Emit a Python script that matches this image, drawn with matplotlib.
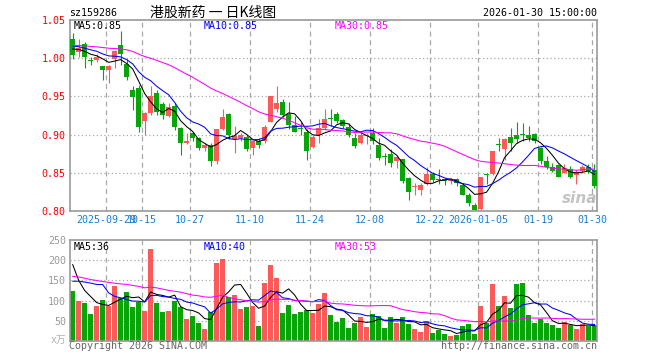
import numpy as np
import pandas as pd
import matplotlib
matplotlib.use('Agg')
from matplotlib import pyplot as plt

plt.rcParams['font.family'] = ['DejaVu Sans Mono', 'Noto Sans CJK SC']

# 行情数据 (2025-09-19 ~ 2026-01-30)
open_p = [1.025, 1.008, 1.019, 0.997, 0.998, 0.990, 0.985, 0.999, 1.017, 0.993,
          0.958, 0.961, 0.918, 0.928, 0.954, 0.940, 0.924, 0.937, 0.908, 0.889,
          0.902, 0.895, 0.882, 0.887, 0.865, 0.907, 0.927, 0.894, 0.895, 0.897,
          0.882, 0.891, 0.891, 0.917, 0.933, 0.943, 0.927, 0.913, 0.908, 0.904,
          0.884, 0.900, 0.908, 0.922, 0.927, 0.919, 0.910, 0.896, 0.889, 0.898,
          0.902, 0.886, 0.872, 0.874, 0.865, 0.868, 0.843, 0.831, 0.827, 0.835,
          0.849, 0.842, 0.842, 0.839, 0.842, 0.834, 0.821, 0.808, 0.802, 0.848,
          0.848, 0.887, 0.881, 0.897, 0.899, 0.900, 0.900, 0.901, 0.882, 0.866,
          0.858, 0.860, 0.850, 0.855, 0.847, 0.853, 0.858, 0.854]
high_p = [1.033, 1.025, 1.021, 1.001, 1.006, 0.990, 0.991, 1.011, 1.036, 0.999,
          0.963, 0.965, 0.930, 0.964, 0.958, 0.943, 0.941, 0.941, 0.910, 0.902,
          0.904, 0.897, 0.889, 0.889, 0.907, 0.933, 0.928, 0.911, 0.902, 0.899,
          0.893, 0.895, 0.913, 0.951, 0.964, 0.946, 0.943, 0.924, 0.917, 0.907,
          0.899, 0.920, 0.934, 0.933, 0.930, 0.921, 0.915, 0.902, 0.902, 0.902,
          0.908, 0.895, 0.876, 0.881, 0.873, 0.868, 0.845, 0.836, 0.836, 0.858,
          0.851, 0.855, 0.843, 0.843, 0.843, 0.836, 0.823, 0.811, 0.845, 0.850,
          0.878, 0.896, 0.895, 0.908, 0.917, 0.915, 0.911, 0.902, 0.884, 0.872,
          0.863, 0.862, 0.862, 0.859, 0.854, 0.860, 0.862, 0.862]
low_p = [0.999, 1.002, 0.987, 0.991, 0.995, 0.971, 0.968, 0.987, 0.991, 0.971,
         0.932, 0.903, 0.900, 0.926, 0.926, 0.920, 0.923, 0.906, 0.873, 0.888,
         0.891, 0.880, 0.879, 0.859, 0.862, 0.906, 0.894, 0.876, 0.891, 0.878,
         0.873, 0.883, 0.889, 0.916, 0.930, 0.923, 0.907, 0.903, 0.899, 0.867,
         0.882, 0.889, 0.906, 0.911, 0.915, 0.908, 0.897, 0.882, 0.888, 0.888,
         0.888, 0.867, 0.860, 0.858, 0.856, 0.836, 0.815, 0.821, 0.821, 0.834,
         0.838, 0.835, 0.834, 0.835, 0.833, 0.821, 0.806, 0.800, 0.800, 0.835,
         0.847, 0.879, 0.867, 0.879, 0.889, 0.891, 0.892, 0.889, 0.862, 0.855,
         0.851, 0.845, 0.850, 0.843, 0.835, 0.850, 0.850, 0.830]
close_p = [1.004, 1.013, 1.001, 0.996, 1.002, 0.984, 0.990, 1.009, 1.006, 0.976,
           0.949, 0.910, 0.928, 0.951, 0.930, 0.926, 0.936, 0.910, 0.889, 0.891,
           0.895, 0.882, 0.886, 0.865, 0.907, 0.923, 0.900, 0.898, 0.899, 0.881,
           0.891, 0.886, 0.910, 0.951, 0.942, 0.926, 0.913, 0.904, 0.907, 0.878,
           0.897, 0.908, 0.921, 0.920, 0.918, 0.911, 0.900, 0.885, 0.899, 0.899,
           0.892, 0.869, 0.871, 0.863, 0.871, 0.839, 0.825, 0.833, 0.834, 0.848,
           0.841, 0.841, 0.839, 0.841, 0.836, 0.821, 0.810, 0.801, 0.844, 0.847,
           0.878, 0.886, 0.894, 0.889, 0.894, 0.899, 0.896, 0.892, 0.866, 0.857,
           0.853, 0.845, 0.856, 0.844, 0.851, 0.858, 0.853, 0.833]
# 成交量(万)
volume = [125, 100, 95, 67.5, 87.5, 102.5, 87.5, 135, 106, 122.5,
          85, 96, 75, 227.5, 93, 72.5, 75, 100, 85, 55,
          62.5, 45, 30, 72.5, 192.5, 202.5, 110, 115, 80, 85,
          87.5, 37.5, 142.5, 187.5, 155, 70, 90, 67.5, 72.5, 77.5,
          70, 92.5, 120, 65, 47.5, 57.5, 32.5, 45, 60, 35,
          67.5, 62.5, 32.5, 60, 45, 60, 42.5, 30, 22.5, 50,
          20, 27.5, 17.5, 12.5, 15, 37.5, 42.5, 17.5, 87.5, 45,
          140, 87.5, 112.5, 82.5, 140, 142.5, 65, 45, 55, 45,
          40, 32.5, 47.5, 40, 30, 42.5, 37.5, 40]

# 图表起点之前的数据(估计值), 只用于均线计算
pre_close = [1.010, 1.015, 1.020, 1.018, 1.012, 1.016, 1.022, 1.019, 1.014, 1.011,
             1.017, 1.021, 1.018, 1.015, 1.013, 1.020, 1.024, 1.019, 1.016, 1.018,
             1.022, 1.020, 1.017, 1.021, 1.019, 1.016, 1.013, 1.015, 1.012]
pre_volume = [150, 180, 170, 160, 175, 155, 190, 165, 150, 170,
              160, 185, 170, 155, 165, 175, 160, 150, 170, 165,
              100, 115, 95, 120, 105, 295, 220, 142.5, 162.5]

tick_dates = ['2025-09-29', '2025-10-15', '2025-10-27', '2025-11-10', '2025-11-24',
              '2025-12-08', '2025-12-22', '2026-01-05', '2026-01-19', '2026-01-30']
tick_labels = ['2025-09-29', '10-15', '10-27', '11-10', '11-24',
               '12-08', '12-22', '2026-01-05', '01-19', '01-30']
holidays = ['2025-10-01', '2025-10-02', '2025-10-03', '2025-10-06', '2025-10-07',
            '2025-10-08', '2026-01-01', '2026-01-02']

ma_price_text = ['MA5:0.85', 'MA10:0.85', 'MA30:0.85']
ma_vol_text = ['MA5:36', 'MA10:40', 'MA30:53']

RED = '#fa5a5a'
GREEN = '#07a507'
GRID = '#a8a8a8'
FRAME = '#9a9a9a'

days = pd.bdate_range('2025-09-19', '2026-01-30')
days = days[~days.isin(pd.to_datetime(holidays))]
x = np.arange(len(days))

o = np.array(open_p)
h = np.array(high_p)
l = np.array(low_p)
c = np.array(close_p)
v = np.array(volume)
up = c >= o
colors = np.where(up, RED, GREEN)

n_pre = len(pre_close)
all_close = pd.Series(pre_close + close_p)
all_vol = pd.Series(pre_volume + volume)
ma_cols = ['black', '#0000ff', '#ff00ff']
ma_n = [5, 10, 30]

tick_pos = [days.get_loc(pd.Timestamp(d)) - 0.4 for d in tick_dates]

W, H = 660, 360
fig = plt.figure(figsize=(6.6, 3.6), dpi=100)
ax1 = fig.add_axes([70 / W, 1 - 211 / H, 527 / W, 191 / H])
ax2 = fig.add_axes([70 / W, 1 - 341 / H, 527 / W, 101 / H])

for ax in (ax1, ax2):
    ax.set_xlim(-0.45, 87.42)
    for s in ax.spines.values():
        s.set_color(FRAME)
        s.set_linewidth(1.2)
    for tp in tick_pos:
        ax.axvline(tp, color=GRID, lw=0.9, ls=(0, (4, 3)), zorder=0)
    ax.tick_params(length=0, labelsize=7.2, pad=3)

# K线
ax1.vlines(x, l, h, colors=colors, lw=0.8, zorder=2)
body = np.maximum(np.abs(c - o), 0.0012)
ax1.bar(x, body, bottom=np.minimum(o, c), width=0.8, color=colors, lw=0, zorder=3)
for n, col in zip(ma_n, ma_cols):
    ma = all_close.rolling(n).mean().values[n_pre:]
    ax1.plot(x, ma, color=col, lw=0.75, zorder=4)
ax1.set_ylim(0.80, 1.05)
price_ticks = [0.80, 0.85, 0.90, 0.95, 1.00, 1.05]
for yv in price_ticks[1:-1]:
    ax1.axhline(yv, color=GRID, lw=0.9, ls=(0, (1, 2)), zorder=0)
ax1.set_yticks(price_ticks)
ax1.set_yticklabels(['%.2f' % t for t in price_ticks], color='red')
ax1.set_xticks(tick_pos)
ax1.set_xticklabels(tick_labels, color='#1a7fcf')

# 成交量
ax2.bar(x, v, width=0.8, color=colors, lw=0, zorder=2)
for n, col in zip(ma_n, ma_cols):
    ma = all_vol.rolling(n).mean().values[n_pre:]
    ax2.plot(x, ma, color=col, lw=0.75, zorder=4)
ax2.set_ylim(0, 250)
vol_ticks = [50, 100, 150, 200, 250]
for yv in vol_ticks[:-1]:
    ax2.axhline(yv, color=GRID, lw=0.9, ls=(0, (1, 2)), zorder=0)
ax2.set_yticks(vol_ticks)
ax2.set_yticklabels([str(t) for t in vol_ticks], color='#999999')
ax2.set_xticks([])


def put(px, py, s, **kw):
    fig.text(px / W, 1 - py / H, s, va='center', **kw)


put(69, 12.5, 'sz159286', fontsize=7.2, color='black')
put(150, 12.5, '港股新药 一 日K线图', fontsize=10, color='black',
    family=['Noto Sans CJK SC', 'DejaVu Sans'])
put(597, 12.5, '2026-01-30 15:00:00', fontsize=7.2, color='black', ha='right')

for txt, col, px in zip(ma_price_text, ma_cols, [74, 204, 335]):
    put(px, 26, txt, fontsize=7.2, color=col)
for txt, col, px in zip(ma_vol_text, ma_cols, [74, 204, 335]):
    put(px, 246.5, txt, fontsize=7.2, color=col)

put(66, 340, 'x万', fontsize=7, color='#b0b0b0', ha='right',
    family=['DejaVu Sans Mono', 'Noto Sans CJK SC'])
put(69, 346, 'Copyright 2026 SINA.COM', fontsize=7.2, color='#666666')
put(597, 346, 'http://finance.sina.com.cn', fontsize=7.2, color='#666666', ha='right')
put(580, 198, 'sina', fontsize=11, color='#b5b5b5', ha='center',
    family='DejaVu Sans', fontweight='bold', style='italic', alpha=0.8)

fig.savefig('out.png', dpi=100)
